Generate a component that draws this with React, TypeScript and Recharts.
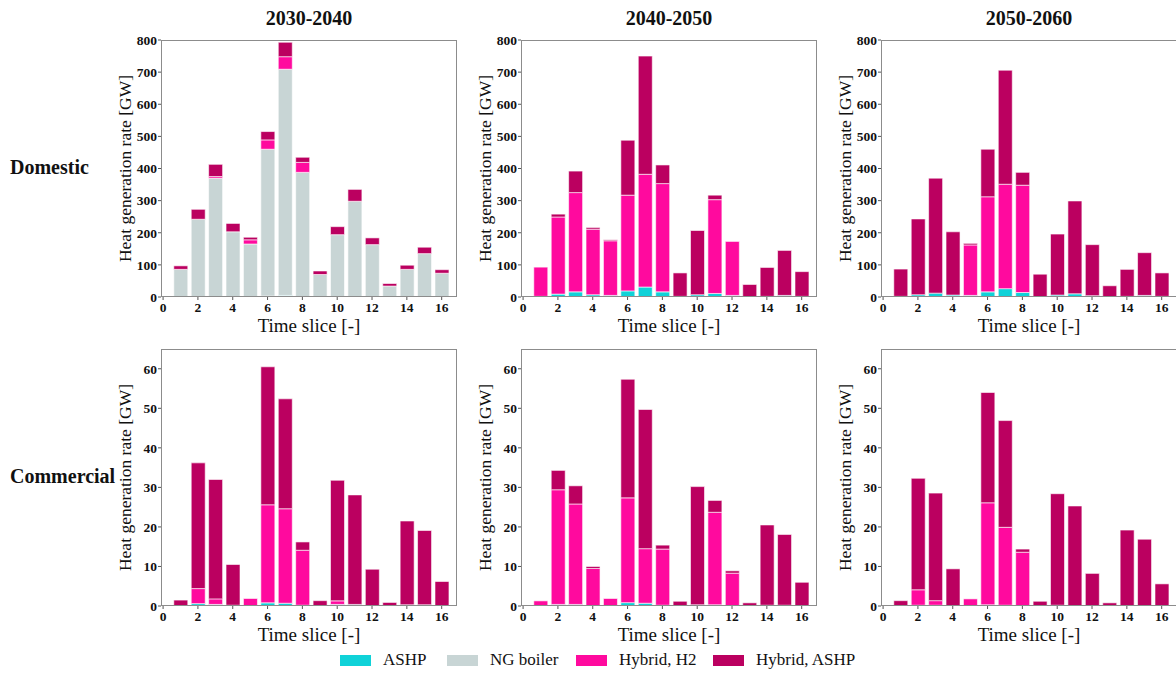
import React from "react";
import { BarChart, Bar, XAxis, YAxis } from "recharts";

const FONT = "'Liberation Serif', 'Times New Roman', serif";

const slices = [1, 2, 3, 4, 5, 6, 7, 8, 9, 10, 11, 12, 13, 14, 15, 16];
const xTicks = [0, 2, 4, 6, 8, 10, 12, 14, 16];
const domesticTicks = [0, 100, 200, 300, 400, 500, 600, 700, 800];
const commercialTicks = [0, 10, 20, 30, 40, 50, 60];

const periods = ["2030-2040", "2040-2050", "2050-2060"];
const sectors = ["Domestic", "Commercial"];

const seriesNames = ["ASHP", "NG boiler", "Hybrid, H2", "Hybrid, ASHP"];
const seriesColors = ["#10d2d8", "#c8d5d5", "#ff0a9e", "#bb0060"];

// Domestic, GW
const dom1Ashp = [0, 0, 0, 0, 0, 3, 5, 0, 0, 0, 0, 0, 0, 0, 0, 0];
const dom1Ng = [86, 242, 370, 203, 165, 457, 704, 388, 70, 194, 298, 163, 34, 86, 135, 74];
const dom1H2 = [0, 0, 5, 0, 13, 29, 39, 31, 0, 0, 0, 0, 0, 0, 0, 0];
const dom1Ha = [11, 31, 38, 26, 8, 26, 45, 16, 11, 25, 37, 21, 8, 13, 20, 11];

const dom2Ashp = [2, 9, 16, 7, 5, 19, 31, 16, 2, 7, 11, 5, 0, 2, 5, 2];
const dom2Ng = [0, 0, 0, 0, 0, 0, 0, 0, 0, 0, 0, 0, 0, 0, 0, 0];
const dom2H2 = [91, 240, 309, 204, 170, 298, 351, 337, 0, 0, 292, 168, 0, 0, 0, 0];
const dom2Ha = [0, 9, 67, 5, 3, 171, 368, 58, 73, 200, 14, 0, 39, 90, 140, 77];

const dom3Ashp = [2, 7, 12, 6, 5, 16, 26, 14, 0, 6, 10, 4, 0, 2, 5, 2];
const dom3Ng = [0, 0, 0, 0, 0, 0, 0, 0, 0, 0, 0, 0, 0, 0, 0, 0];
const dom3H2 = [0, 0, 0, 0, 157, 296, 325, 334, 0, 0, 0, 0, 0, 0, 0, 0];
const dom3Ha = [85, 236, 358, 197, 5, 148, 355, 40, 71, 190, 289, 159, 35, 84, 133, 73];

// Commercial, GW
const com1Ashp = [0, 0.6, 0.4, 0.2, 0, 0.8, 0.7, 0.2, 0, 0.4, 0.4, 0, 0, 0.3, 0.3, 0];
const com1Ng = [0, 0, 0, 0, 0, 0, 0, 0, 0, 0, 0, 0, 0, 0, 0, 0];
const com1H2 = [0, 3.8, 1.4, 0, 1.9, 24.8, 23.9, 13.9, 0, 0.9, 0, 0, 0, 0, 0, 0];
const com1Ha = [1.5, 31.8, 30.2, 10.3, 0, 34.9, 27.8, 2.1, 1.35, 30.5, 27.7, 9.3, 0.9, 21.2, 18.8, 6.2];

const com2Ashp = [0, 0.4, 0.4, 0, 0, 0.85, 0.7, 0.2, 0, 0.3, 0.3, 0, 0, 0.2, 0.2, 0];
const com2Ng = [0, 0, 0, 0, 0, 0, 0, 0, 0, 0, 0, 0, 0, 0, 0, 0];
const com2H2 = [1.3, 29.0, 25.4, 9.5, 1.9, 26.5, 13.8, 14.2, 0, 0, 23.4, 8.3, 0, 0, 0, 0];
const com2Ha = [0, 4.9, 4.6, 0.5, 0, 30.0, 35.2, 1.0, 1.2, 29.9, 3.0, 0.6, 0.8, 20.3, 17.9, 6.0];

const com3Ashp = [0, 0.2, 0.2, 0, 0, 0.3, 0.2, 0, 0, 0.2, 0, 0, 0, 0, 0, 0];
const com3Ng = [0, 0, 0, 0, 0, 0, 0, 0, 0, 0, 0, 0, 0, 0, 0, 0];
const com3H2 = [0, 3.9, 1.15, 0, 1.8, 25.8, 19.7, 13.6, 0, 0, 0, 0, 0, 0, 0, 0];
const com3Ha = [1.35, 28.2, 27.2, 9.4, 0, 27.9, 27.0, 0.8, 1.2, 28.2, 25.3, 8.25, 0.8, 19.2, 16.9, 5.6];

const panels = [
  [dom1Ashp, dom1Ng, dom1H2, dom1Ha],
  [dom2Ashp, dom2Ng, dom2H2, dom2Ha],
  [dom3Ashp, dom3Ng, dom3H2, dom3Ha],
  [com1Ashp, com1Ng, com1H2, com1Ha],
  [com2Ashp, com2Ng, com2H2, com2Ha],
  [com3Ashp, com3Ng, com3H2, com3Ha],
];

const keys = ["ashp", "ng", "h2", "ha"];

const PLOT_W = 296;
const PLOT_H = 257;
const AXIS_W = 60;
const TOP_PAD = 14;
const colLeft = [161, 521, 881];
const rowTop = [40, 349];

const YLabel = (props: any) => {
  const vb = props.viewBox || {};
  const x = vb.x + vb.width - 36;
  const y = vb.y + vb.height / 2;
  return (
    <text
      x={x}
      y={y}
      transform={`rotate(-90, ${x}, ${y})`}
      textAnchor="middle"
      dominantBaseline="central"
      style={{ fontFamily: FONT, fontSize: 17.5, fill: "#111" }}
    >
      Heat generation rate [GW]
    </text>
  );
};

const XLabel = (props: any) => {
  const vb = props.viewBox || {};
  return (
    <text
      x={vb.x + vb.width / 2}
      y={vb.y + 28}
      textAnchor="middle"
      dominantBaseline="central"
      style={{ fontFamily: FONT, fontSize: 19, fill: "#111" }}
    >
      Time slice [-]
    </text>
  );
};

const tickStyle = {
  fontSize: 13.5,
  fontWeight: "bold" as const,
  fill: "#111",
  style: { fontFamily: FONT },
};

function Panel({ index }: { index: number }) {
  const row = Math.floor(index / 3);
  const col = index % 3;
  const series = panels[index];
  const data = slices.map((t, i) => {
    const d: any = { t };
    keys.forEach((k, s) => {
      d[k] = series[s][i];
    });
    return d;
  });
  const yTicks = row === 0 ? domesticTicks : commercialTicks;
  const yMax = row === 0 ? 800 : 65;
  const left = colLeft[col];
  const top = rowTop[row];

  return (
    <>
      <div style={{ position: "absolute", left: left - AXIS_W, top: top - TOP_PAD, fontFamily: FONT }}>
        <BarChart
          width={PLOT_W + AXIS_W + 5}
          height={PLOT_H + TOP_PAD + 45}
          data={data}
          margin={{ top: TOP_PAD, right: 5, left: 0, bottom: 0 }}
          barGap={0}
          style={{ fontFamily: FONT }}
        >
          <XAxis
            dataKey="t"
            type="number"
            domain={[-0.12, 16.88]}
            ticks={xTicks}
            allowDataOverflow
            height={45}
            axisLine={false}
            tickSize={3}
            tickMargin={2}
            tickLine={{ stroke: "#555" }}
            tick={tickStyle}
            interval={0}
            label={<XLabel />}
          />
          <YAxis
            type="number"
            domain={[0, yMax]}
            ticks={yTicks}
            allowDataOverflow
            width={AXIS_W}
            axisLine={false}
            tickSize={3}
            tickMargin={1}
            tickLine={{ stroke: "#555" }}
            tick={tickStyle}
            interval={0}
            label={<YLabel />}
          />
          {keys.map((k, s) => (
            <Bar
              key={k}
              dataKey={k}
              name={seriesNames[s]}
              stackId="a"
              fill={seriesColors[s]}
              stroke="#ffffff"
              strokeWidth={0.6}
              barSize={14}
              isAnimationActive={false}
            />
          ))}
        </BarChart>
      </div>
      <div
        style={{
          position: "absolute",
          left,
          top,
          width: PLOT_W,
          height: PLOT_H,
          border: "1px solid #8c8c8c",
          boxSizing: "border-box",
          pointerEvents: "none",
        }}
      />
    </>
  );
}

const legendLeft = [340, 447, 576, 713];

export default function App() {
  return (
    <div
      style={{
        position: "absolute",
        left: 0,
        top: 0,
        width: 1176,
        height: 675,
        overflow: "hidden",
        background: "#fff",
        fontFamily: FONT,
        color: "#111",
      }}
    >
      {periods.map((p, c) => (
        <div
          key={p}
          style={{
            position: "absolute",
            left: colLeft[c] + PLOT_W / 2 - 80,
            width: 160,
            top: 6,
            textAlign: "center",
            fontWeight: "bold",
            fontSize: 20,
            lineHeight: "24px",
          }}
        >
          {p}
        </div>
      ))}
      {sectors.map((s, r) => (
        <div
          key={s}
          style={{
            position: "absolute",
            left: 10,
            top: (r === 0 ? 167 : 476) - 12,
            fontWeight: "bold",
            fontSize: 20,
            lineHeight: "24px",
          }}
        >
          {s}
        </div>
      ))}
      {panels.map((_, i) => (
        <Panel key={i} index={i} />
      ))}
      {seriesNames.map((n, s) => (
        <div
          key={n}
          style={{
            position: "absolute",
            left: legendLeft[s],
            top: 650,
            height: 20,
            display: "flex",
            alignItems: "center",
            fontSize: 17,
            whiteSpace: "nowrap",
          }}
        >
          <span
            style={{
              display: "inline-block",
              width: 31,
              height: 11,
              background: seriesColors[s],
              marginRight: 12,
            }}
          />
          {n}
        </div>
      ))}
    </div>
  );
}
